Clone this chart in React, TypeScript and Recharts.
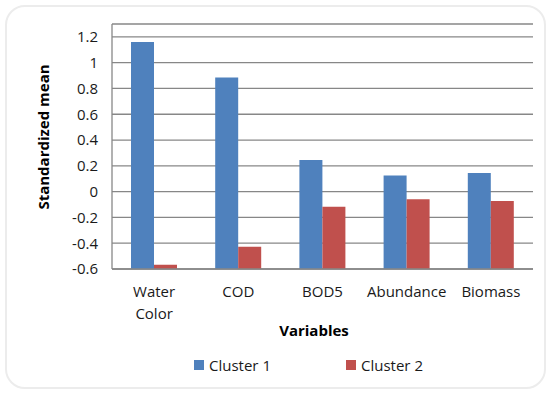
import React from 'react';
import { BarChart, Bar, XAxis, YAxis, CartesianGrid, Legend } from 'recharts';

const categories = ['Water Color', 'COD', 'BOD5', 'Abundance', 'Biomass'];
const cluster1 = [1.16, 0.885, 0.245, 0.126, 0.145];
const cluster2 = [-0.567, -0.428, -0.118, -0.06, -0.072];
const yTicks = [-0.6, -0.4, -0.2, 0, 0.2, 0.4, 0.6, 0.8, 1, 1.2];
const Y_MIN = -0.6;
const Y_MAX = 1.3;
const seriesNames = ['Cluster 1', 'Cluster 2'];
const seriesColors = ['#4F81BD', '#C0504D'];

const data = categories.map((name, i) => ({ name, c1: cluster1[i], c2: cluster2[i] }));

const FONT = "'Open Sans', sans-serif";
const GRID = '#878787';

const XTick = (props: any) => {
  const { x, y, payload } = props;
  const words = String(payload.value).split(' ');
  return (
    <text x={x} y={y} textAnchor="middle" fill="#1a1a1a" fontSize={15} fontFamily={FONT}>
      {words.map((w, i) => (
        <tspan key={i} x={x} dy={i === 0 ? 28 : 22}>{w}</tspan>
      ))}
    </text>
  );
};

const YLabel = () => (
  <text x={43} y={137} transform="rotate(-90, 43, 137)" textAnchor="middle" dominantBaseline="central"
    fontSize={15} fontWeight="bold" fontFamily={FONT} fill="#000">Standardized mean</text>
);

const XLabel = () => (
  <text x={314} y={330} textAnchor="middle" dominantBaseline="central"
    fontSize={15} fontWeight="bold" fontFamily={FONT} fill="#000">Variables</text>
);

const LegendContent = (props: any) => {
  const payload = props.payload || [];
  return (
    <div style={{ display: 'flex', height: 20, alignItems: 'center', paddingLeft: 194, fontFamily: FONT, fontSize: 15, color: '#1a1a1a' }}>
      {payload.map((p: any, i: number) => (
        <div key={i} style={{ display: 'flex', alignItems: 'center', width: 152 }}>
          <span style={{ display: 'inline-block', width: 10, height: 10, background: p.color, marginRight: 5 }} />
          <span>{p.value}</span>
        </div>
      ))}
    </div>
  );
};

export default function App() {
  return (
    <div style={{ position: 'absolute', left: 0, top: 0, width: 550, height: 394, background: '#fff' }}>
      <div style={{ position: 'absolute', left: 5, top: 5, width: 537, height: 380, border: '2px solid #ececec', borderRadius: 20 }} />
      <BarChart width={550} height={394} data={data} margin={{ top: 24, right: 17, left: 0, bottom: 75 }}
        barSize={23} barGap={0}>
        <CartesianGrid vertical={false} stroke={GRID} strokeWidth={1.3} />
        <XAxis dataKey="name" type="category" height={30} axisLine={{ stroke: GRID, strokeWidth: 1.3 }} tickLine={false}
          tickSize={0} tickMargin={0} tick={<XTick />} interval={0} label={<XLabel />} />
        <YAxis type="number" domain={[Y_MIN, Y_MAX]} ticks={yTicks} width={112} allowDataOverflow
          axisLine={{ stroke: GRID, strokeWidth: 1.3 }} tickLine={false} tickSize={0} tickMargin={14}
          tick={{ fontSize: 15, fontFamily: FONT, fill: '#1a1a1a' }} label={<YLabel />} />
        <Legend verticalAlign="bottom" height={20} content={<LegendContent />}
          wrapperStyle={{ top: 355, bottom: 'auto', left: 0, width: 550 }} />
        <Bar dataKey={(d: any) => [Y_MIN, d.c1]} name={seriesNames[0]} fill={seriesColors[0]} isAnimationActive={false} />
        <Bar dataKey={(d: any) => [Y_MIN, d.c2]} name={seriesNames[1]} fill={seriesColors[1]} isAnimationActive={false} />
      </BarChart>
    </div>
  );
}
